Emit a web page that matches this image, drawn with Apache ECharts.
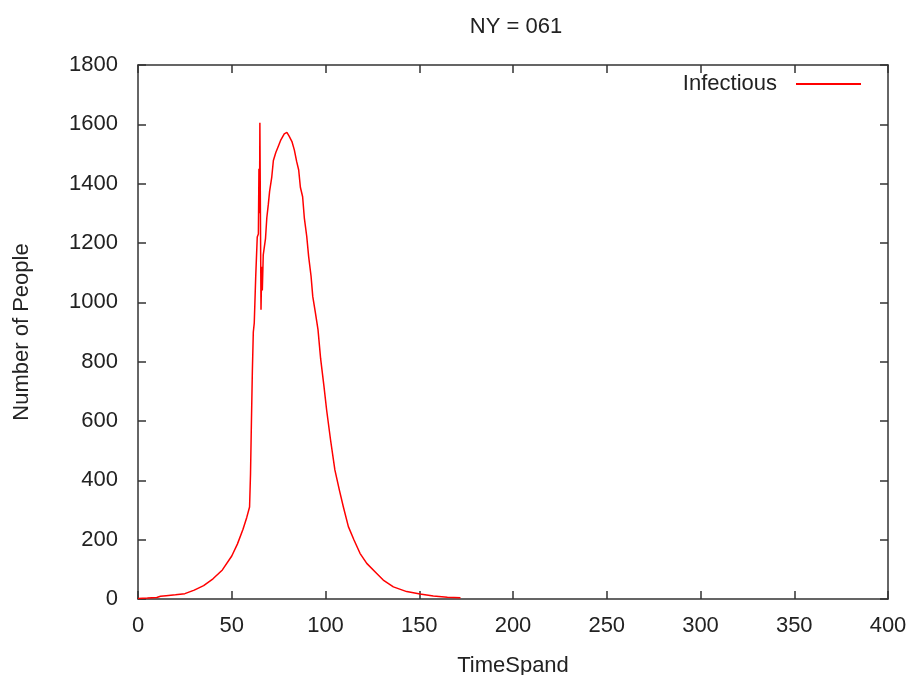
<!DOCTYPE html>
<html>
<head>
<meta charset="utf-8">
<title>NY = 061</title>
<script src="https://cdn.jsdelivr.net/npm/echarts@6/dist/echarts.min.js"></script>
<style>
  html, body { margin: 0; padding: 0; background: #fff; }
  #chart { width: 914px; height: 675px; }
</style>
</head>
<body>
<div id="chart"></div>
<script>
  // time steps
  var timeSteps = [0, 5, 10, 12, 15, 20, 25, 30, 35, 40, 45, 50, 53, 56, 58, 59.5,
    60, 60.5, 61, 61.5, 62, 62.8, 63.6, 64.2, 64.5, 64.8, 65, 65.3, 65.6, 66, 66.3, 66.8,
    68, 68.7, 69.5, 70.2, 71.3, 72.2, 73.5, 74.9, 76.2, 78, 79.4, 80.6, 82.1, 83.4,
    84.6, 85.7, 86.6, 87.8, 88.7, 90, 91, 92.3, 93.2, 94.6, 96, 97.4, 99.2, 100.6,
    102.7, 105, 107.4, 109.5, 112.2, 115.2, 118.4, 122, 126.4, 130.8, 136.2, 143.3,
    150.4, 157.5, 165, 172]
  // infectious people at each time step
  var infectious = [2, 3, 5, 9, 11, 14, 18, 30, 45, 68, 98, 145, 185, 235, 275, 310,
    420, 600, 770, 900, 930, 1090, 1220, 1230, 1450, 1300, 1605, 1290, 975, 1120, 1040, 1160,
    1215, 1285, 1330, 1375, 1420, 1478, 1505, 1527, 1548, 1568, 1573, 1560, 1542, 1513,
    1475, 1446, 1388, 1356, 1285, 1222, 1155, 1088, 1020, 965, 908, 810, 716, 637,
    536, 435, 367, 311, 244, 199, 154, 120, 92, 64, 41, 25,
    17, 10, 6, 4]

  var fontName = 'Liberation Sans'
  var fontSize = 22
  var textColor = '#222'
  var lineColor = '#333'

  var seriesData = timeSteps.map(function (t, i) {
    return [t, infectious[i]]
  })

  var chart = echarts.init(document.getElementById('chart'))

  // box around the plot, ticks pointing inward like gnuplot
  var frameAxis = {
    type: 'value',
    axisLine: { show: true, onZero: false, lineStyle: { color: lineColor, width: 1.5 } },
    axisTick: { show: true, inside: true, length: 8, lineStyle: { color: lineColor, width: 1.5 } },
    splitLine: { show: false }
  }

  chart.setOption({
    animation: false,
    backgroundColor: '#fff',
    textStyle: { fontFamily: fontName },
    title: {
      text: 'NY = 061',
      left: 511,
      top: 11,
      textAlign: 'center',
      textStyle: { fontFamily: fontName, fontSize: fontSize, fontWeight: 'normal', color: textColor }
    },
    legend: {
      data: ['Infectious'],
      right: 48,
      top: 68,
      align: 'right',
      itemWidth: 65,
      itemHeight: 2,
      icon: 'rect',
      textStyle: { fontFamily: fontName, fontSize: fontSize, color: textColor, padding: [0, 14, 0, 0] }
    },
    grid: {
      left: 138,
      right: 26,
      top: 65,
      bottom: 76,
      outerBoundsMode: 'none'
    },
    xAxis: [
      Object.assign({}, frameAxis, {
        position: 'bottom',
        min: 0,
        max: 400,
        interval: 50,
        name: 'TimeSpand',
        nameLocation: 'middle',
        nameGap: 56,
        nameTextStyle: { fontFamily: fontName, fontSize: fontSize, color: textColor },
        axisLabel: { fontFamily: fontName, fontSize: fontSize, color: textColor, margin: 16 }
      }),
      Object.assign({}, frameAxis, {
        position: 'top',
        min: 0,
        max: 400,
        interval: 50,
        axisLabel: { show: false }
      })
    ],
    yAxis: [
      Object.assign({}, frameAxis, {
        position: 'left',
        min: 0,
        max: 1800,
        interval: 200,
        name: 'Number of People',
        nameLocation: 'middle',
        nameGap: 105,
        nameTextStyle: { fontFamily: fontName, fontSize: fontSize, color: textColor },
        axisLabel: {
          fontFamily: fontName, fontSize: fontSize, color: textColor, margin: 20,
          formatter: function (v) { return String(v) }
        }
      }),
      Object.assign({}, frameAxis, {
        position: 'right',
        min: 0,
        max: 1800,
        interval: 200,
        axisLabel: { show: false }
      })
    ],
    series: [
      {
        name: 'Infectious',
        type: 'line',
        data: seriesData,
        showSymbol: false,
        symbol: 'none',
        color: '#ff0000',
        lineStyle: { color: '#ff0000', width: 1.5 },
        itemStyle: { color: '#ff0000' }
      }
    ]
  })
</script>
</body>
</html>
